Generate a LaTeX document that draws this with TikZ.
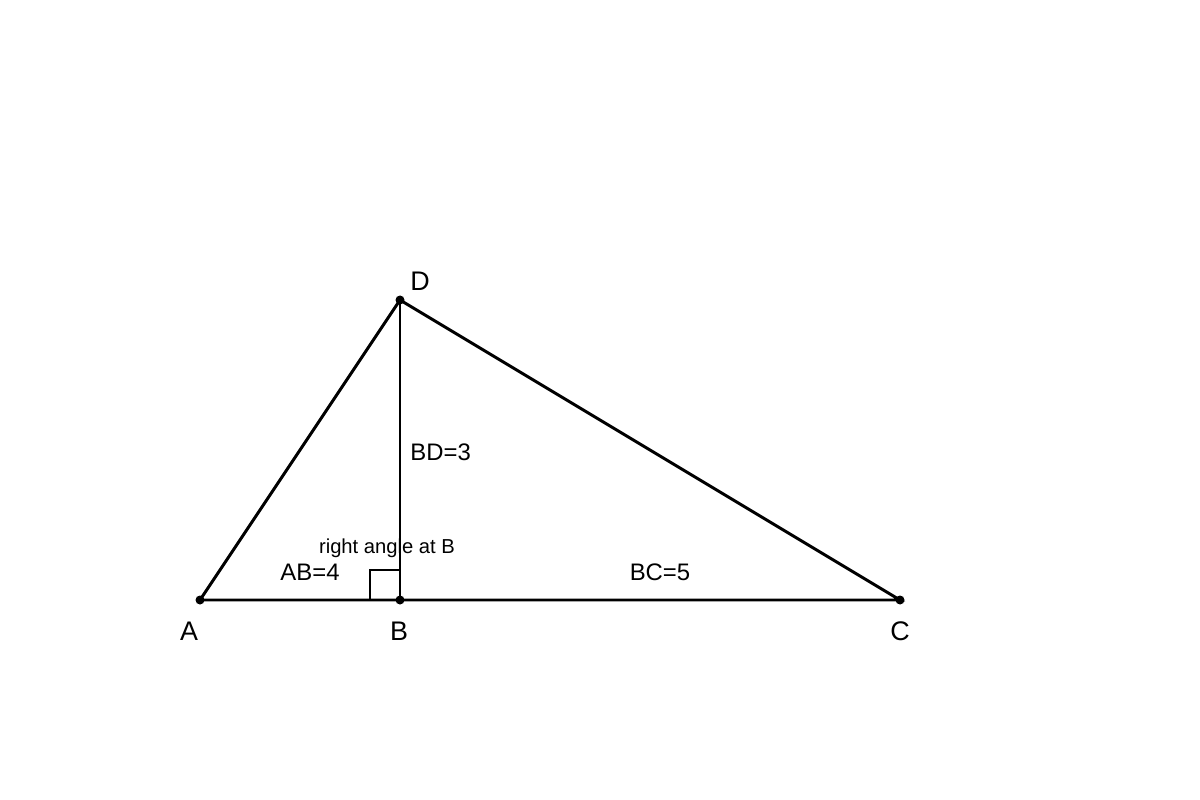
\documentclass[tikz,border=0pt]{standalone}
\usepackage{fontspec}
\setmainfont{Liberation Sans}
\begin{document}
\begin{tikzpicture}[x=0.02cm,y=-0.02cm,
	side/.style={line width=1.7pt},
	anglemark/.style={line width=1.1pt},
	vtx/.style={font=\fontsize{15.3pt}{17pt}\selectfont,inner sep=0pt},
	lbl/.style={font=\fontsize{13.6pt}{15pt}\selectfont,inner sep=0pt},
	small/.style={font=\fontsize{11.5pt}{13pt}\selectfont,inner sep=0pt}]
\useasboundingbox (0,0) rectangle (1200,800);

\foreach \n/\x/\y in {A/200/600,B/400/600,C/900/600,D/400/300}
	\coordinate (\n) at (\x,\y);

\foreach \n/\x/\y in {A/189/631,B/399/631,C/900/631,D/420/281}
	\node[vtx] (l\n) at (\x,\y) {\n};
\node[lbl] (ab) at (310,572) {AB=4};
\node[lbl] (bc) at (660,572) {BC=5};
\node[lbl,anchor=west] (bd) at (410,452) {BD=3};
\node[small] (ra) at (387,548) {right angle at B};

\draw[anglemark] (B) ++(-30,0) |- ++(30,-30);
\draw[side] (A) -- (C) -- (D) -- (A);
\draw[side] (D) -- (B);
\foreach \n in {A,B,C,D}
	\fill (\n) circle (4.5);
\end{tikzpicture}
\end{document}
